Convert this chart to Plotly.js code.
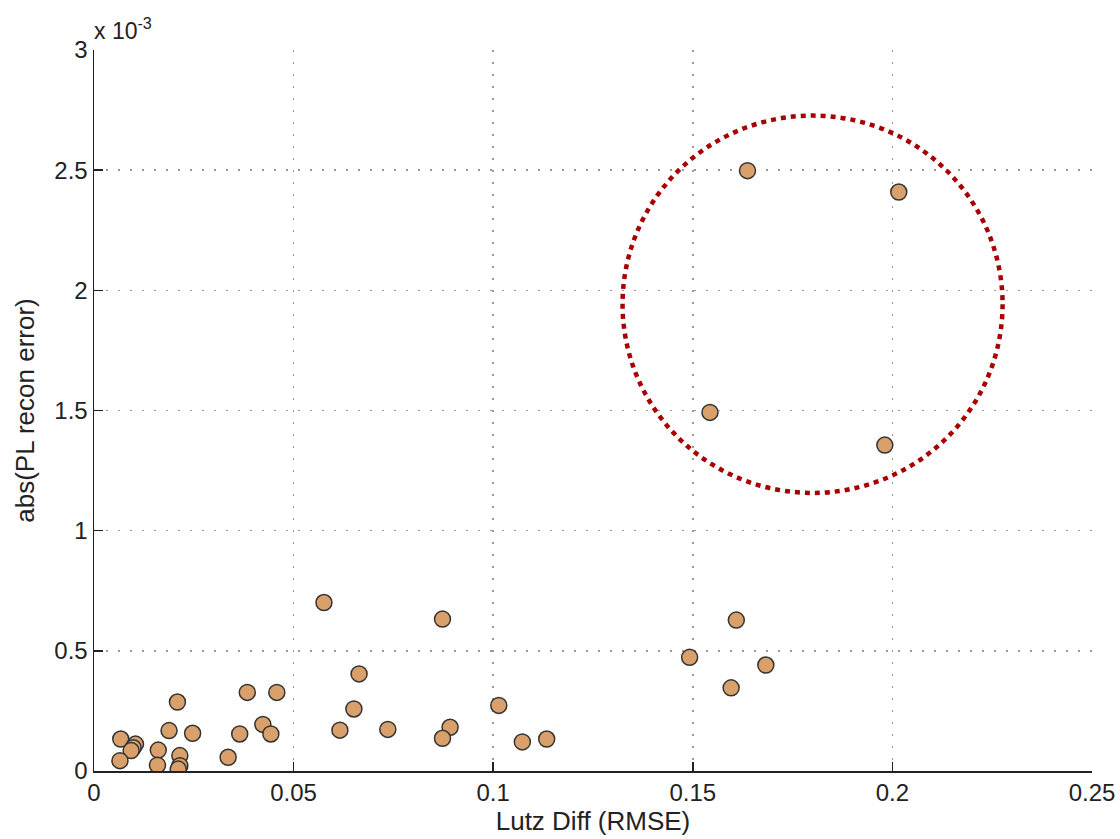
<!DOCTYPE html>
<html>
<head>
<meta charset="utf-8">
<script src="https://cdn.plot.ly/plotly-3.0.1.min.js"></script>
<style>html,body{margin:0;padding:0;background:#fff;}#chart{width:1120px;height:839px;}</style>
</head>
<body>
<div id="chart"></div>
<script>
// Lutz Diff (RMSE)
const lutzDiff = [
  0.1637, 0.2016, 0.1543, 0.1981,
  0.1609, 0.1492, 0.1683, 0.1596,
  0.0576, 0.0873, 0.0664, 0.0651, 0.0616, 0.0736, 0.0892, 0.0873, 0.1014, 0.1073, 0.1134,
  0.0384, 0.0458, 0.0209, 0.0423, 0.0188, 0.0247, 0.0365, 0.0443, 0.0067,
  0.0104, 0.0098, 0.0093, 0.0161, 0.0065, 0.0159, 0.0215, 0.0215, 0.0211, 0.0336
];
// abs(PL recon error), in units of 1e-3
const plReconErr_e3 = [
  2.498, 2.409, 1.492, 1.356,
  0.628, 0.473, 0.441, 0.346,
  0.701, 0.632, 0.404, 0.258, 0.170, 0.173, 0.182, 0.136, 0.273, 0.121, 0.133,
  0.327, 0.327, 0.287, 0.194, 0.168, 0.157, 0.154, 0.154, 0.133,
  0.112, 0.097, 0.085, 0.087, 0.043, 0.024, 0.064, 0.022, 0.008, 0.057
];
// Highlight circle (center and radii, data units)
const circleCenter = [0.180, 1.942];
const circleRadius = [0.0476, 0.785];

const xTicks = [0, 0.05, 0.1, 0.15, 0.2, 0.25];
const xTickText = ["0", "0.05", "0.1", "0.15", "0.2", "0.25"];
const yTicks = [0, 0.5, 1, 1.5, 2, 2.5, 3];
const yTickText = ["0", "0.5", "1", "1.5", "2", "2.5", "3"];

const fam = "Liberation Sans, Arial, Helvetica, sans-serif";
const tickFont = {family: fam, size: 24, color: "#222"};
const titleFont = {family: fam, size: 26, color: "#222"};

const trace = {
  type: "scatter",
  mode: "markers",
  x: lutzDiff,
  y: plReconErr_e3,
  marker: {size: 16, color: "#D9A06B", line: {color: "#333333", width: 1.5}},
  hoverinfo: "x+y"
};

const axisCommon = {
  ticks: "inside", ticklen: 9, tickcolor: "#222", tickwidth: 1.5,
  showline: true, linecolor: "#222", linewidth: 1.5,
  showgrid: true, gridcolor: "#999999", griddash: "2px,10px", gridwidth: 1.5,
  zeroline: false,
  tickfont: tickFont
};

const layout = {
  width: 1120, height: 839,
  margin: {l: 94, r: 28, t: 50, b: 68},
  paper_bgcolor: "#fff", plot_bgcolor: "#fff",
  showlegend: false,
  font: tickFont,
  xaxis: Object.assign({}, axisCommon, {
    range: [0, 0.25],
    tickvals: xTicks, ticktext: xTickText,
    title: {text: "Lutz Diff (RMSE)", font: titleFont, standoff: 2}
  }),
  yaxis: Object.assign({}, axisCommon, {
    range: [0, 3],
    tickvals: yTicks, ticktext: yTickText,
    title: {text: "abs(PL recon error)", font: titleFont, standoff: 12}
  }),
  shapes: [{
    type: "circle", xref: "x", yref: "y",
    x0: circleCenter[0] - circleRadius[0], x1: circleCenter[0] + circleRadius[0],
    y0: circleCenter[1] - circleRadius[1], y1: circleCenter[1] + circleRadius[1],
    line: {color: "#A80000", width: 4.5, dash: "5px,5px"}
  }],
  annotations: [{
    text: "x 10<sup>-3</sup>", xref: "paper", yref: "paper",
    x: 0, y: 1, xanchor: "left", yanchor: "bottom", yshift: 4, xshift: -2,
    showarrow: false, font: {family: fam, size: 23, color: "#222"}
  }]
};

Plotly.newPlot("chart", [trace], layout, {displayModeBar: false, staticPlot: true});
</script>
</body>
</html>
